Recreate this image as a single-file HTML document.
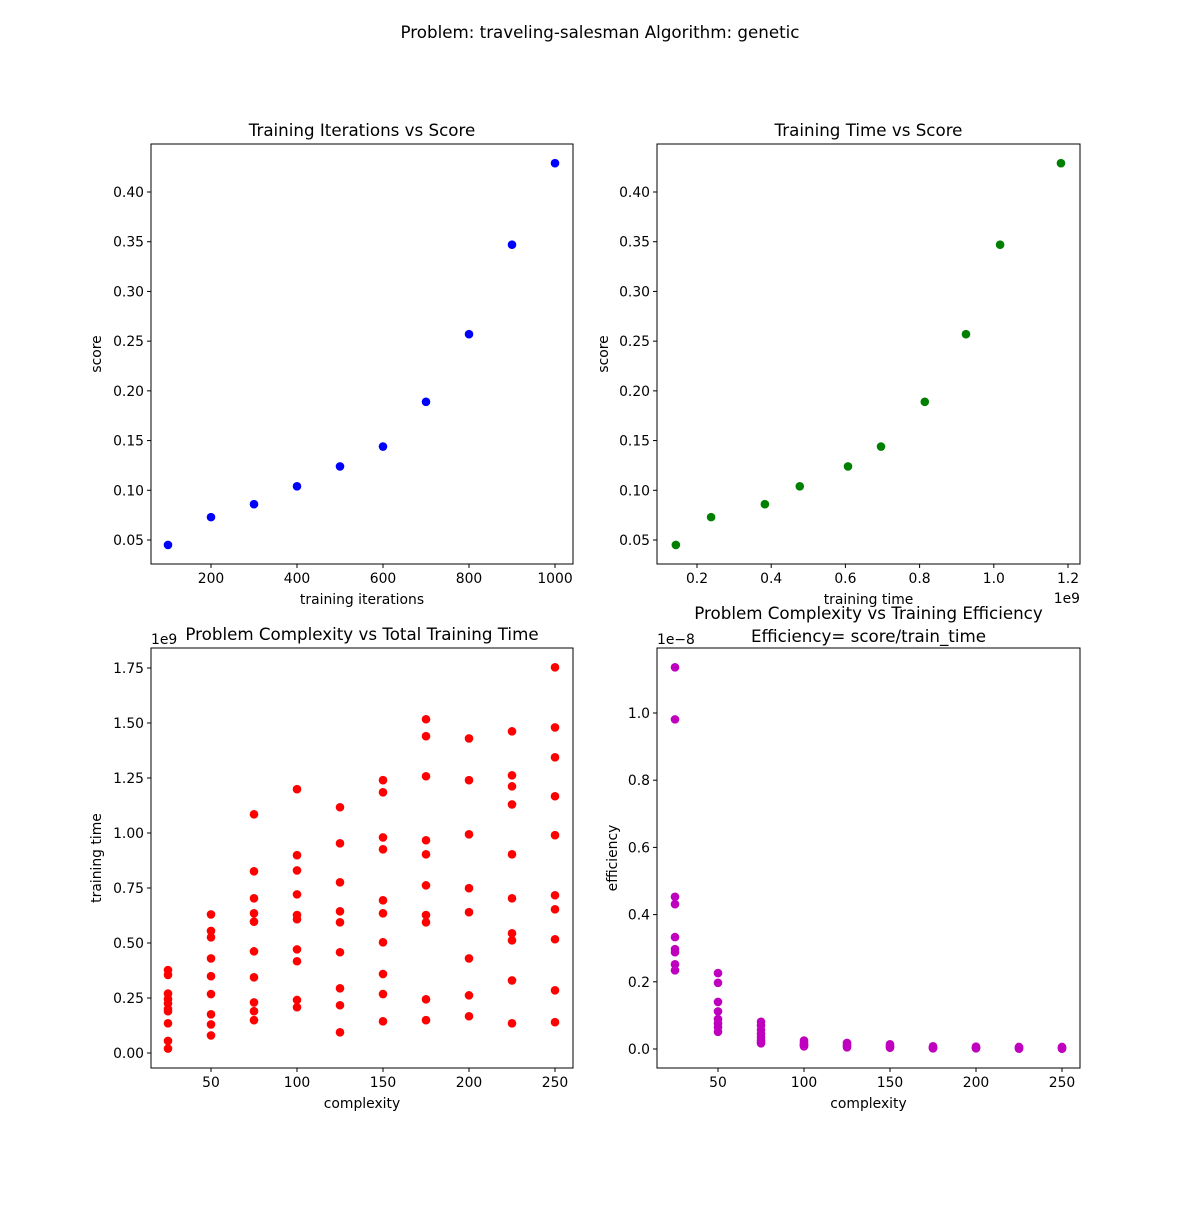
<!DOCTYPE html>
<html><head><meta charset="utf-8"><style>
body{margin:0;background:#fff}
svg text{font-family:"DejaVu Sans","Liberation Sans",sans-serif;fill:#000}
</style></head><body>
<svg id="fig" width="1200" height="1200" xmlns="http://www.w3.org/2000/svg">
<rect width="1200" height="1200" fill="#fff"/>
<text x="600" y="38" font-size="16.7" text-anchor="middle">Problem: traveling-salesman Algorithm: genetic</text>
</svg>
<script>
// Plot 1 & 2 data
const iterations = [100,200,300,400,500,600,700,800,900,1000];
const scores = [0.045,0.073,0.086,0.104,0.124,0.144,0.189,0.257,0.347,0.429];
const trainTimes = [0.143,0.238,0.383,0.477,0.607,0.696,0.814,0.925,1.017,1.181]; // x1e9
// Plot 3 data: complexity columns and training times (x1e9)
const complexities = [25,50,75,100,125,150,175,200,225,250];
const timesByComplexity = [
 [0.377,0.355,0.27,0.245,0.225,0.2,0.19,0.135,0.055,0.02],
 [0.63,0.555,0.526,0.43,0.349,0.268,0.176,0.13,0.08],
 [1.085,0.826,0.703,0.635,0.597,0.462,0.344,0.23,0.19,0.149],
 [1.199,0.899,0.83,0.721,0.627,0.608,0.471,0.417,0.241,0.208],
 [1.117,0.953,0.776,0.644,0.594,0.458,0.294,0.217,0.094],
 [1.24,1.185,0.98,0.926,0.694,0.635,0.503,0.359,0.268,0.144],
 [1.517,1.44,1.258,0.967,0.903,0.762,0.627,0.594,0.244,0.149],
 [1.43,1.24,0.994,0.749,0.64,0.43,0.262,0.167],
 [1.462,1.262,1.212,1.13,0.903,0.703,0.544,0.512,0.33,0.135],
 [1.753,1.48,1.344,1.167,0.99,0.717,0.653,0.517,0.285,0.14]
];
// Plot 4 data: efficiency (x1e-8)
const effByComplexity = [
 [1.136,0.981,0.453,0.431,0.333,0.297,0.288,0.252,0.234],
 [0.226,0.197,0.14,0.112,0.089,0.076,0.065,0.051],
 [0.081,0.07,0.057,0.045,0.035,0.025,0.02,0.017],
 [0.025,0.02,0.015,0.012,0.01,0.008],
 [0.018,0.012,0.008,0.005],
 [0.014,0.01,0.006,0.004],
 [0.008,0.005,0.003,0.002],
 [0.007,0.004,0.003,0.002],
 [0.006,0.004,0.002,0.001],
 [0.006,0.004,0.002,0.001]
];
const ticksIter = [200,400,600,800,1000];
const ticksScore = [0.05,0.10,0.15,0.20,0.25,0.30,0.35,0.40];
const ticksTime = [0.2,0.4,0.6,0.8,1.0,1.2];
const ticksCx = [50,100,150,200,250];
const ticksTT = [0,0.25,0.5,0.75,1.0,1.25,1.5,1.75];
const ticksEff = [0,0.2,0.4,0.6,0.8,1.0];

const svg = document.getElementById('fig');
const NS = 'http://www.w3.org/2000/svg';
function mk(tag, attrs, parent){const e=document.createElementNS(NS,tag);for(const k in attrs)e.setAttribute(k,attrs[k]);(parent||svg).appendChild(e);return e;}
function lin(d0,d1,r0,r1){return v=>r0+(v-d0)/(d1-d0)*(r1-r0);}

function panel(o){
  const g = mk('g',{});
  
  
  const sx = lin(o.xd[0],o.xd[1],o.xr[0],o.xr[1]);
  const sy = lin(o.yd[0],o.yd[1],o.yr[0],o.yr[1]);
  const L=o.box[0],T=o.box[1],R=o.box[2],B=o.box[3];
  // points
  o.pts.forEach(p=>{
    const c = mk('circle',{cx:sx(p[0]),cy:sy(p[1]),r:4.3,fill:o.color},g);
    
    
  });
  const fr = mk('rect',{x:L,y:T,width:R-L,height:B-T,fill:'none',stroke:'#000','stroke-width':1},g);
  
  
  o.xt.forEach((t,i)=>{
    const x=sx(t);
    mk('line',{x1:x,x2:x,y1:B,y2:B+4,stroke:'#000'},g);
    const tx = mk('text',{x:x,y:B+19,'font-size':13.9,'text-anchor':'middle'},g);
    tx.textContent = o.xl[i];
    
    
  });
  o.yt.forEach((t,i)=>{
    const y=sy(t);
    mk('line',{x1:L-4,x2:L,y1:y,y2:y,stroke:'#000'},g);
    const tx = mk('text',{x:L-7,y:y+5,'font-size':13.9,'text-anchor':'end'},g);
    tx.textContent = o.yl[i];
    
    
  });
  const xt = mk('text',{x:(L+R)/2,y:B+40,'font-size':13.9,'text-anchor':'middle'},g);
  xt.textContent = o.xlabel;
  
  
  const yt = mk('text',{x:0,y:0,'font-size':13.9,'text-anchor':'middle',transform:`translate(${o.ylx},${(T+B)/2}) rotate(-90)`},g);
  yt.textContent = o.ylabel;
  
  
  o.title.forEach((s,i)=>{
    const tt = mk('text',{x:(L+R)/2,y:o.titleY+i*23,'font-size':16.7,'text-anchor':'middle'},g);
    tt.textContent = s;
    
    
  });
  (o.extra||[]).forEach(e=>{
    const tx = mk('text',{x:e[0],y:e[1],'font-size':13.9,'text-anchor':e[3]||'start'},g);
    tx.textContent = e[2];
    
    
  });
}
const f2 = v=>v.toFixed(2);
panel({name:'iterations-vs-score',box:[151,144,573,564],xd:[200,1000],xr:[211,555],yd:[0.05,0.40],yr:[540,192],
  pts:iterations.map((x,i)=>[x,scores[i]]),color:'#0000ff',xt:ticksIter,xl:ticksIter.map(String),yt:ticksScore,yl:ticksScore.map(f2),
  xlabel:'training iterations',ylabel:'score',ylx:101,title:['Training Iterations vs Score'],titleY:136});
panel({name:'time-vs-score',box:[657,144,1080,564],xd:[0.2,1.2],xr:[697,1068],yd:[0.05,0.40],yr:[540,192],
  pts:trainTimes.map((x,i)=>[x,scores[i]]),color:'#008000',xt:ticksTime,xl:ticksTime.map(v=>v.toFixed(1)),yt:ticksScore,yl:ticksScore.map(f2),
  xlabel:'training time',ylabel:'score',ylx:608,title:['Training Time vs Score'],titleY:136,extra:[[1080,603,'1e9','end']]});
const p3=[];timesByComplexity.forEach((col,i)=>col.forEach(v=>p3.push([complexities[i],v])));
panel({name:'complexity-vs-training-time',box:[151,648,573,1068],xd:[50,250],xr:[211,555],yd:[0,1.75],yr:[1053,668],
  pts:p3,color:'#ff0000',xt:ticksCx,xl:ticksCx.map(String),yt:ticksTT,yl:ticksTT.map(f2),
  xlabel:'complexity',ylabel:'training time',ylx:101,title:['Problem Complexity vs Total Training Time'],titleY:640,extra:[[151,644,'1e9']]});
const p4=[];effByComplexity.forEach((col,i)=>col.forEach(v=>p4.push([complexities[i],v])));
panel({name:'complexity-vs-efficiency',box:[657,648,1080,1068],xd:[50,250],xr:[718,1062],yd:[0,1.0],yr:[1049,713],
  pts:p4,color:'#bf00bf',xt:ticksCx,xl:ticksCx.map(String),yt:ticksEff,yl:ticksEff.map(v=>v.toFixed(1)),
  xlabel:'complexity',ylabel:'efficiency',ylx:617,title:['Problem Complexity vs Training Efficiency','Efficiency= score/train_time'],titleY:619,extra:[[657,644,'1e\u22128']]});
</script>
</body></html>
